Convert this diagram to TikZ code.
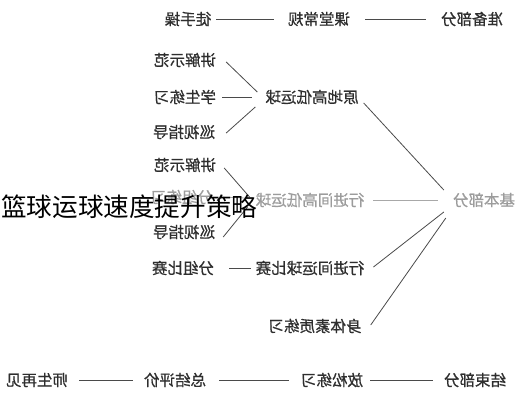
\documentclass[tikz,border=0pt]{standalone}
\usepackage{fontspec}
\setmainfont{Noto Sans CJK SC}
\newfontfamily\lblfont[FakeBold=0.7]{Noto Sans CJK SC}
\usetikzlibrary{calc}
\definecolor{darktxt}{HTML}{2E2E2E}
\definecolor{lighttxt}{HTML}{9C9C9C}
\definecolor{darkline}{HTML}{4A4A4A}
\definecolor{lightline}{HTML}{A8A8A8}
\tikzset{
  lbl/.style={inner sep=0pt, text=darktxt, font=\lblfont\fontsize{15.5}{16}\selectfont},
  glbl/.style={lbl, text=lighttxt},
  ln/.style={draw=darkline, line width=0.8pt},
  gln/.style={draw=lightline, line width=0.8pt},
  ttl/.style={inner sep=0pt, text=black, font=\fontsize{25.6}{27}\selectfont}
}
\newcommand{\mr}[1]{\reflectbox{#1}}
\begin{document}
\begin{tikzpicture}[x=1pt,y=-1pt]
\useasboundingbox[fill=white] (0,0) rectangle (521,400);
% row 1
\node[lbl] (zb) at (472,19) {\mr{准备部分}};
\node[lbl] (kt) at (319,19) {\mr{课堂常规}};
\node[lbl] (ts) at (188,19) {\mr{徒手操}};
% group 1
\node[lbl] (yd) at (312,97) {\mr{原地高低运球}};
\node[lbl] (jsa) at (185,60) {\mr{讲解示范}};
\node[lbl] (xs) at (185,97) {\mr{学生练习}};
\node[lbl] (xza) at (184,132) {\mr{巡视指导}};
% group 2
\node[glbl] (jb) at (484,200) {\mr{基本部分}};
\node[glbl] (xj) at (310,200) {\mr{行进间高低运球}};
\node[lbl] (jsb) at (185,165) {\mr{讲解示范}};
\node[glbl] (fz) at (182,197) {\mr{分组练习}};
\node[lbl] (xzb) at (184,232) {\mr{巡视指导}};
% group 3
\node[lbl] (xb) at (310,268) {\mr{行进间运球比赛}};
\node[lbl] (fb) at (183,268) {\mr{分组比赛}};
\node[lbl] (st) at (315,326) {\mr{身体素质练习}};
% last row
\node[lbl] (je) at (475,380) {\mr{结束部分}};
\node[lbl] (fs) at (332,380) {\mr{放松练习}};
\node[lbl] (zj) at (175,380) {\mr{总结评价}};
\node[lbl] (ss) at (37,380) {\mr{师生再见}};
% connectors
\draw[ln] ($(zb.west)+(-15,0)$) -- ($(kt.east)+(15,0)$);
\draw[ln] ($(kt.west)+(-14,0)$) -- ($(ts.east)+(5,0)$);
\draw[ln] ($(jsa.east)+(10,2)$) -- ($(yd.west)+(-8,-5)$);
\draw[ln] ($(xs.east)+(6,0)$) -- ($(yd.west)+(-13,0)$);
\draw[ln] ($(xza.east)+(11,1)$) -- ($(yd.west)+(-10,10)$);
\draw[ln] ($(yd.east)+(5,6)$) -- ($(jb.west)+(-9,-10)$);
\draw[gln] ($(xj.east)+(9,0)$) -- ($(jb.west)+(-15,0)$);
\draw[ln] ($(xb.east)+(9,-1)$) -- ($(jb.west)+(-9,12)$);
\draw[ln] ($(st.east)+(9,-1)$) -- ($(jb.west)+(-7,18)$);
\draw[ln] ($(jsb.east)+(8,3)$) -- ($(xj.west)+(-6,-3)$);
\draw[gln] ($(fz.east)+(8,0)$) -- ($(xj.west)+(-10,-2)$);
\draw[ln] ($(xzb.east)+(8,5)$) -- ($(xj.west)+(-8,7)$);
\draw[ln] ($(fb.east)+(15,0)$) -- ($(xb.west)+(-5,0)$);
\draw[ln] ($(je.west)+(-11,0)$) -- ($(fs.east)+(7,0)$);
\draw[ln] ($(fs.west)+(-12,0)$) -- ($(zj.east)+(13,0)$);
\draw[ln] ($(zj.west)+(-11,0)$) -- ($(ss.east)+(11,0)$);
% title overlay
\node[ttl, anchor=west] (title) at (1,207) {篮球运球速度提升策略};
\end{tikzpicture}
\end{document}
